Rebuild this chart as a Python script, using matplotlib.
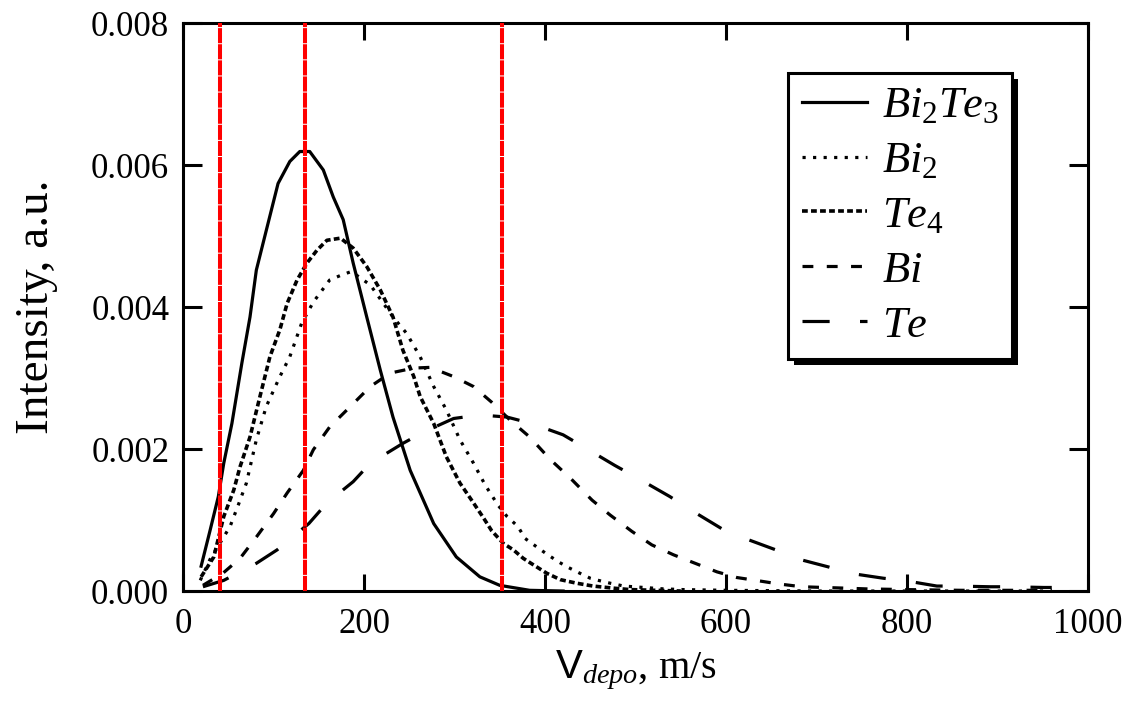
import numpy as np
import matplotlib
matplotlib.use("Agg")
import matplotlib.pyplot as plt
import matplotlib.transforms as mtransforms
from matplotlib.patches import Rectangle

plt.rcParams["font.family"] = ["Liberation Serif", "DejaVu Serif"]
plt.rcParams["mathtext.fontset"] = "custom"
plt.rcParams["mathtext.rm"] = "Liberation Serif"
plt.rcParams["mathtext.it"] = "Liberation Serif:italic"
plt.rcParams["mathtext.sf"] = "Liberation Sans"

#
# Data (velocity in m/s, intensity in a.u.)
#
v_bi2te3 = [20, 30, 39, 45, 54, 65, 74, 81, 92, 105, 118, 129, 140, 155, 166, 177,
            188, 203, 218, 232, 251, 277, 302, 328, 350, 383, 420]
i_bi2te3 = [0.00035, 0.00086, 0.00133, 0.00180, 0.00236, 0.00321, 0.00386, 0.00452,
            0.00508, 0.00574, 0.00605, 0.00619, 0.00619, 0.00593, 0.00555, 0.00523,
            0.00462, 0.00386, 0.00311, 0.00245, 0.00170, 0.00095, 0.00048, 0.00020,
            0.00008, 0.00001, 0.0]

v_bi2 = [19, 30, 42, 52, 61, 70, 81, 92, 107, 118, 131, 144, 162, 175, 186, 207, 232,
         247, 262, 277, 291, 306, 321, 334, 348, 358, 370, 378, 391, 402, 415, 426,
         437, 450, 459, 472, 487, 509, 531, 553, 600, 700, 800, 960]
i_bi2 = [0.00015, 0.00045, 0.00070, 0.00091, 0.00121, 0.00152, 0.00213, 0.00260,
         0.00302, 0.00330, 0.00377, 0.00407, 0.00438, 0.00445, 0.00450, 0.00431,
         0.00386, 0.00363, 0.00330, 0.00288, 0.00255, 0.00213, 0.00180, 0.00149,
         0.00121, 0.00105, 0.00091, 0.00074, 0.00062, 0.00052, 0.00041, 0.00033,
         0.00026, 0.00018, 0.00015, 0.00011, 0.00007, 0.00005, 0.00003, 0.00002,
         0.00001, 0.0, 0.0, 0.0]

v_te4 = [20, 34, 45, 56, 63, 74, 85, 96, 107, 115, 126, 137, 148, 159, 174, 188, 203,
         218, 232, 243, 255, 262, 277, 291, 306, 321, 332, 341, 354, 365, 376, 387,
         402, 417, 435, 453, 476, 494, 550]
i_te4 = [0.00020, 0.00048, 0.00105, 0.00142, 0.00175, 0.00217, 0.00274, 0.00330,
         0.00368, 0.00405, 0.00438, 0.00462, 0.00480, 0.00494, 0.00497, 0.00483,
         0.00457, 0.00424, 0.00386, 0.00339, 0.00302, 0.00274, 0.00236, 0.00189,
         0.00152, 0.00124, 0.00103, 0.00085, 0.00067, 0.00058, 0.00046, 0.00037,
         0.00025, 0.00016, 0.00011, 0.00007, 0.00004, 0.00002, 0.0]

v_bi = [22, 44, 63, 81, 100, 115, 133, 144, 162, 185, 207, 229, 255, 273, 299, 321,
        341, 362, 383, 406, 428, 452, 472, 496, 518, 542, 568, 590, 612, 638, 658,
        684, 708, 733, 755, 800, 860, 960]
i_bi = [0.00008, 0.00025, 0.00046, 0.00076, 0.00109, 0.00138, 0.00170, 0.00199,
        0.00231, 0.00260, 0.00288, 0.00307, 0.00314, 0.00315, 0.00302, 0.00288,
        0.00266, 0.00240, 0.00217, 0.00185, 0.00159, 0.00128, 0.00107, 0.00084,
        0.00065, 0.00051, 0.00038, 0.00027, 0.00019, 0.00014, 0.00010, 0.00006,
        0.00005, 0.00004, 0.00003, 0.00002, 0.00001, 0.00001]

v_te = [22, 45, 81, 104, 139, 159, 188, 207, 243, 266, 299, 328, 358, 385, 420, 444,
        477, 501, 538, 560, 595, 621, 655, 680, 713, 737, 774, 796, 833, 855, 892,
        914, 951, 960]
i_te = [0.00006, 0.00015, 0.00039, 0.00058, 0.00095, 0.00124, 0.00154, 0.00180,
        0.00208, 0.00224, 0.00243, 0.00248, 0.00245, 0.00236, 0.00220, 0.00202,
        0.00177, 0.00160, 0.00133, 0.00115, 0.00088, 0.00074, 0.00058, 0.00045,
        0.00034, 0.00025, 0.00018, 0.00015, 0.00007, 0.00007, 0.00006, 0.00006,
        0.00005, 0.00005]

v_markers = [41, 135, 352]

labels = [r"$Bi_2Te_3$", r"$Bi_2$", r"$Te_4$", r"$Bi$", r"$Te$"]

#
# Plot
#
fig = plt.figure(figsize=(11.39, 7.17), dpi=100)
ax = fig.add_axes([0.1607, 0.1757, 0.7945, 0.7922])

lw = 2.3
ax.plot(v_bi2te3, i_bi2te3, color="k", lw=lw, ls="-", label=labels[0])
ax.plot(v_bi2, i_bi2, color="k", lw=lw, ls=(0, (1, 2.3)), label=labels[1])
ax.plot(v_te4, i_te4, color="k", lw=2.6, ls=(0, (1.6, 0.9)), label=labels[2])
ax.plot(v_bi, i_bi, color="k", lw=lw, ls=(0, (3.4, 4.2)), label=labels[3])
ax.plot(v_te, i_te, color="k", lw=lw, ls=(0, (8.5, 9.5)), label=labels[4])

for v in v_markers:
    ax.axvline(v, color="red", lw=2.9, ls=(0, (3.75, 0.25)), zorder=4)

ax.set_xlim(0, 1000)
ax.set_ylim(0, 0.008)
ax.set_xticks(np.arange(0, 1001, 200))
ax.set_yticks(np.arange(0, 0.0081, 0.002))
ax.yaxis.set_major_formatter(matplotlib.ticker.FormatStrFormatter("%.3f"))

for s in ax.spines.values():
    s.set_linewidth(2.2)
ax.tick_params(axis="both", direction="in", width=2.2, labelsize=25)
ax.tick_params(axis="x", length=12, pad=12, top=True)
ax.tick_params(axis="y", length=14, pad=10, right=True)

ax.set_xlabel(r"$\mathsf{V}_{depo}$, m/s", fontsize=29, labelpad=6)
ax.set_ylabel("Intensity, a.u.", fontsize=34, labelpad=24)

leg = ax.legend(loc="upper right", bbox_to_anchor=(0.916, 0.912), borderaxespad=0,
                fontsize=32, handlelength=1.46, handletextpad=0.34, labelspacing=0.33,
                borderpad=0.3, fancybox=False, framealpha=1, edgecolor="k")
leg.get_frame().set_linewidth(2.2)
leg.set_zorder(6)

# black drop shadow behind the legend frame
fig.canvas.draw()
bb = leg.get_window_extent()
shadow = Rectangle((bb.x0 + 6, bb.y0 - 6), bb.width, bb.height, facecolor="k",
                   edgecolor="none", transform=mtransforms.IdentityTransform(),
                   zorder=5.5)
ax.add_patch(shadow)

fig.savefig("out.png", dpi=100)
